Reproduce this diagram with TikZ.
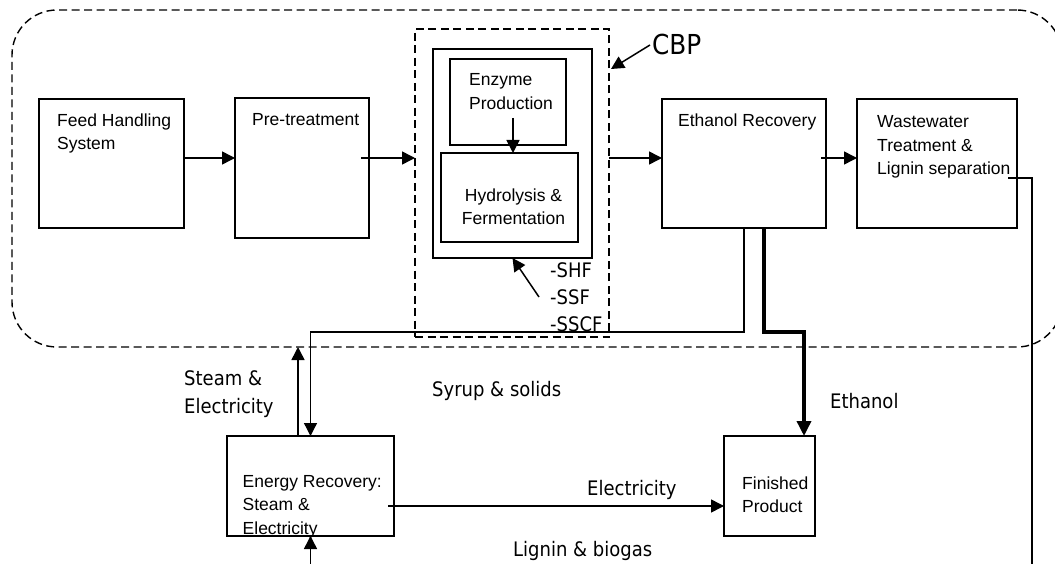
\documentclass[tikz,border=0pt]{standalone}
\usepackage{fontspec}
\setmainfont{Liberation Sans}
\newfontfamily\lblfont[FakeStretch=0.9]{DejaVu Sans}
\usetikzlibrary{arrows.meta,fit,calc}
\begin{document}
\begin{tikzpicture}[x=1pt,y=-1pt,
  box/.style={draw, line width=1.8pt, inner sep=0pt, outer sep=0pt, rectangle},
  dbox/.style={draw, line width=1.4pt, dash pattern=on 8pt off 4.5pt, inner sep=0pt, outer sep=0pt, rectangle},
  arr/.style={line width=1.5pt, -{Triangle[length=13pt,width=13pt]}},
  thickarr/.style={line width=3.5pt, -{Triangle[length=15pt,width=14pt]}},
  plain/.style={line width=1.5pt},
  btxt/.style={anchor=base west, inner sep=0pt, align=left, font={\fontsize{17.5}{23.5}\selectfont}},
  ltxt/.style={anchor=base west, inner sep=0pt, align=left, font={\lblfont\fontsize{20}{27}\selectfont}},
]
\useasboundingbox (0,0) rectangle (1055,564);
% containers
\node[dbox, rounded corners=45pt, fit={(12,10) (1062,347)}] (outer) {};
\node[dbox, fit={(415,29) (609,337)}] (cbp) {};
\node[box, fit={(433,49) (592,258)}] (inner) {};
% boxes
\node[box, fit={(39,99) (184,228)}] (feed) {};
\node[box, fit={(235,98) (369,238)}] (pre) {};
\node[box, fit={(450,59) (566,145)}] (enzyme) {};
\node[box, fit={(441,153) (578,242)}] (hydro) {};
\node[box, fit={(662,99) (826,228)}] (er) {};
\node[box, fit={(857,99) (1017,228)}] (ww) {};
\node[box, fit={(227,436) (394,536)}] (energy) {};
\node[box, fit={(724,436) (815,536)}] (fin) {};
% box texts (anchor = baseline of last line)
\node[btxt] (tfeed) at (57,150) {Feed Handling\\System};
\node[btxt] (tpre) at (252,125.5) {Pre-treatment};
\node[btxt] (tenz) at (469,109.5) {Enzyme\\Production};
\node[btxt, anchor=base, align=center] (thyd) at (513.5,225) {Hydrolysis \&\\Fermentation};
\node[btxt] (ter) at (678,127) {Ethanol Recovery};
\node[btxt] (tww) at (877,175) {Wastewater\\Treatment \&\\Lignin separation};
\node[btxt] (ten) at (242.5,534) {Energy Recovery:\\Steam \&\\Electricity};
\node[btxt] (tfin) at (742,512.5) {Finished\\Product};
% labels
\node[ltxt, font={\lblfont\fontsize{27.5}{30}\selectfont}] (cbplbl) at (652,55) {CBP};
\node[ltxt] (modes) at (550,331) {-SHF\\-SSF\\-SSCF};
\node[ltxt, font={\lblfont\fontsize{20}{28.5}\selectfont}] (steamlbl) at (184,413.5) {Steam \&\\Electricity};
\node[ltxt] (syruplbl) at (432,396.5) {Syrup \& solids};
\node[ltxt] (ethlbl) at (830,408) {Ethanol};
\node[ltxt] (eleclbl) at (587,495) {Electricity};
\node[ltxt] (liglbl) at (513,556) {Lignin \& biogas};
% helper coordinates
\coordinate (flow) at (0,158);
\coordinate (preE) at ([xshift=-8pt]pre.east);
\coordinate (erE) at ([xshift=-5pt]er.east);
\coordinate (enzS) at ([xshift=5pt,yshift=27pt]enzyme.south);
\coordinate (shfT) at (539,297);
\coordinate (cbpTip) at ($(cbp.north east)+(2,40)$);
\coordinate (steamS) at ([xshift=-12.5pt]energy.north);
\coordinate (ebot) at (310.5,572);
\coordinate (wwbot) at (1032,572);
% connectors
\draw[arr] (feed.east |- flow) -- (pre.west |- flow);
\draw[arr] (preE |- flow) -- (cbp.west |- flow);
\draw[arr] (cbp.east |- flow) -- (er.west |- flow);
\draw[arr] (erE |- flow) -- (ww.west |- flow);
\draw[arr] (enzS) -- (enzS |- hydro.north);
\draw[arr] (shfT) -- (inner.south);
\draw[arr] ([xshift=-2pt]cbplbl.west) -- (cbpTip);
\draw[arr, line width=1.3pt] (er.south) -- ++(0,104) -| (energy.north);
\draw[thickarr] ([xshift=20pt]er.south) -- ++(0,104) -| ([xshift=-11pt]fin.north east);
\draw[arr] (steamS) -- (steamS |- outer.south);
\draw[arr] (ebot) -- (energy.south);
\draw[arr] ([xshift=-6pt,yshift=-20pt]energy.east) -- ([yshift=-20pt]fin.west);
\draw[plain] ([xshift=-9pt,yshift=-14.5pt]ww.east) -| (wwbot);
\end{tikzpicture}
\end{document}
